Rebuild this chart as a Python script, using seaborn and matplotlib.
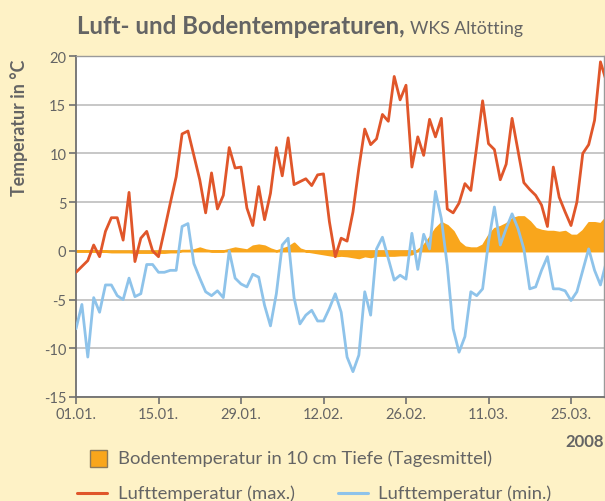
import numpy as np
import pandas as pd
import matplotlib
matplotlib.use("Agg")
import matplotlib.pyplot as plt
import matplotlib.dates as mdates
from matplotlib.patches import Rectangle
from matplotlib.lines import Line2D
import seaborn as sns

# ---------------------------------------------------------------------------
# Data (daily values 01.01.2008 - 31.03.2008)
# ---------------------------------------------------------------------------

START_DATE = "2008-01-01"

luft_max = [
    -2.2, -1.6, -1.0, 0.6, -0.6, 2.0, 3.4, 3.4, 1.1, 6.0,
    -1.1, 1.3, 2.0, 0.0, -0.6, 2.1, 4.9, 7.6, 12.0, 12.3,
    9.8, 7.3, 3.9, 8.0, 4.3, 5.7, 10.6, 8.5, 8.6, 4.4,
    2.6, 6.6, 3.2, 5.9, 10.6, 7.7, 11.6, 6.8, 7.1, 7.4,
    6.7, 7.8, 7.9, 3.0, -0.6, 1.3, 1.0, 4.0, 8.5, 12.5,
    10.9, 11.5, 14.0, 13.3, 17.9, 15.5, 17.0, 8.6, 11.7, 9.8,
    13.5, 11.7, 13.6, 4.3, 3.9, 4.9, 6.9, 6.2, 10.7, 15.4,
    11.0, 10.4, 7.3, 8.9, 13.6, 10.3, 7.0, 6.3, 5.7, 4.7,
    2.5, 8.6, 5.5, 4.0, 2.6, 5.0, 10.0, 10.9, 13.4, 19.4,
    17.4,
]

luft_min = [
    -8.0, -5.5, -10.9, -4.8, -6.3, -3.5, -3.5, -4.6, -5.0, -2.8,
    -4.7, -4.4, -1.4, -1.4, -2.2, -2.2, -2.0, -2.0, 2.5, 2.8,
    -1.3, -2.8, -4.2, -4.6, -4.1, -4.8, 0.0, -2.8, -3.4, -3.7,
    -2.4, -2.7, -5.6, -7.7, -4.4, 0.6, 1.3, -4.8, -7.5, -6.6,
    -6.1, -7.2, -7.2, -5.9, -4.4, -6.3, -10.9, -12.4, -10.7, -4.2,
    -6.6, 0.2, 1.4, -0.8, -3.0, -2.5, -2.9, 1.8, -1.9, 1.7,
    0.2, 6.1, 3.3, -1.5, -8.0, -10.4, -8.8, -4.2, -4.6, -3.9,
    0.9, 4.5, 0.6, 2.3, 3.8, 2.3, 0.2, -3.9, -3.7, -2.0,
    -0.6, -3.9, -3.9, -4.1, -5.1, -4.2, -2.0, 0.2, -2.0, -3.5,
    -1.1,
]

boden_10cm = [
    0.0, 0.0, 0.0, 0.0, -0.05, -0.05, -0.1, -0.1, -0.1, -0.1,
    -0.15, -0.15, -0.15, -0.15, -0.15, -0.15, -0.1, -0.1, 0.05, 0.05,
    0.1, 0.3, 0.1, 0.0, 0.0, 0.0, 0.15, 0.3, 0.2, 0.1,
    0.5, 0.6, 0.5, 0.2, 0.0, 0.2, 0.4, 0.8, 0.2, 0.0,
    -0.1, -0.2, -0.3, -0.4, -0.5, -0.45, -0.5, -0.6, -0.7, -0.5,
    -0.6, -0.45, -0.45, -0.45, -0.45, -0.4, -0.4, -0.3, 0.1, 0.6,
    1.4, 2.3, 2.9, 2.6, 2.0, 0.9, 0.4, 0.3, 0.3, 0.6,
    1.6, 2.3, 2.5, 2.8, 3.3, 3.5, 3.5, 3.0, 2.3, 2.1,
    2.0, 2.0, 1.9, 2.0, 1.6, 1.6, 2.1, 2.9, 2.9, 2.8,
    3.5,
]

tick_dates = ["2008-01-01", "2008-01-15", "2008-01-29", "2008-02-12",
              "2008-02-26", "2008-03-11", "2008-03-25"]
y_ticks = [-15, -10, -5, 0, 5, 10, 15, 20]

# ---------------------------------------------------------------------------
# Style
# ---------------------------------------------------------------------------

BG = "#FEF2C6"
GREY = "#646464"
RED = "#E0562A"
BLUE = "#8EC3EA"
ORANGE = "#F9A61C"

sns.set_theme(style="white")
plt.rcParams["font.family"] = ["Lato", "DejaVu Sans"]

df = pd.DataFrame({
    "datum": pd.date_range(START_DATE, periods=len(luft_max), freq="D"),
    "max": luft_max,
    "min": luft_min,
    "boden": boden_10cm,
})

W, H = 605, 502
fig = plt.figure(figsize=(W / 100, H / 100), dpi=100, facecolor=BG)
ax = fig.add_axes([76 / W, 1 - 398 / H, (604 - 76) / W, (398 - 57) / H])
ax.set_facecolor("white")

# soil temperature as filled area, air temperatures as lines
ax.fill_between(df["datum"], 0, df["boden"], color=ORANGE,
                edgecolor=ORANGE, linewidth=1.6, zorder=2)
sns.lineplot(data=df, x="datum", y="min", color=BLUE, linewidth=2.0,
             ax=ax, zorder=3)
sns.lineplot(data=df, x="datum", y="max", color=RED, linewidth=2.0,
             ax=ax, zorder=4)

x0 = mdates.date2num(pd.Timestamp(START_DATE))
ax.set_xlim(x0, x0 + 89.6)
ax.set_ylim(-15, 20)
ax.set_yticks(y_ticks)
ax.set_yticklabels([str(v) for v in y_ticks])
ax.set_xticks(pd.to_datetime(tick_dates))
ax.xaxis.set_major_formatter(mdates.DateFormatter("%d.%m."))
ax.set_xlabel("")
ax.set_ylabel("")

ax.grid(axis="y", color="#BDBDBD", linewidth=1.2, zorder=0)
ax.set_axisbelow(True)
for side in ["top", "right"]:
    ax.spines[side].set_color("#9A9A9A")
    ax.spines[side].set_linewidth(1.0)
for side in ["left", "bottom"]:
    ax.spines[side].set_color("#707070")
    ax.spines[side].set_linewidth(1.3)
ax.tick_params(axis="both", direction="out", length=5, width=1.2,
               color="#707070", labelcolor=GREY, labelsize=10.5, pad=2,
               left=True, bottom=True)

# titles and labels
t1 = fig.text(77 / W, 1 - 34 / H, "Luft- und Bodentemperaturen,",
              fontsize=17.3, fontweight="bold", color=GREY, va="baseline")
fig.canvas.draw()
bb = t1.get_window_extent()
fig.text((bb.x1 + 5) / W, 1 - 34 / H, "WKS Altötting",
         fontsize=12.8, color=GREY, va="baseline")

fig.text(19 / W, 1 - 128 / H, "Temperatur in °C", rotation=90,
         fontsize=12.8, fontweight="bold", color=GREY, ha="center", va="center")
fig.text(604 / W, 1 - 442 / H, "2008", fontsize=12, fontweight="bold",
         color=GREY, ha="right", va="center")

# legend, drawn by hand to follow the reference layout
fig.patches.append(Rectangle((90 / W, 1 - 468 / H), 17 / W, 17 / H,
                             transform=fig.transFigure, facecolor=ORANGE,
                             edgecolor="#8C7A5A", linewidth=1.0))
fig.text(118 / W, 1 - 459 / H, "Bodentemperatur in 10 cm Tiefe (Tagesmittel)",
         fontsize=13.3, color=GREY, va="center")
fig.lines.append(Line2D([77 / W, 107 / W], [1 - 494 / H] * 2,
                        transform=fig.transFigure, color=RED, linewidth=2.2))
fig.text(118 / W, 1 - 494 / H, "Lufttemperatur (max.)",
         fontsize=13.3, color=GREY, va="center")
fig.lines.append(Line2D([338 / W, 368 / W], [1 - 494 / H] * 2,
                        transform=fig.transFigure, color=BLUE, linewidth=2.2))
fig.text(378 / W, 1 - 494 / H, "Lufttemperatur (min.)",
         fontsize=13.3, color=GREY, va="center")

fig.savefig("out.png", dpi=100, facecolor=BG)
